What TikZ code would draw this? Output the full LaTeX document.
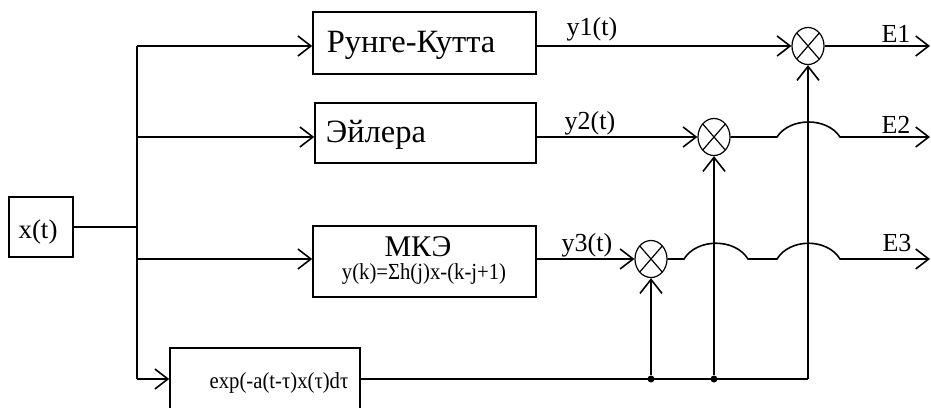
\documentclass[tikz,border=0pt]{standalone}
\usepackage{fontspec}
\setmainfont{Liberation Serif}
\usetikzlibrary{arrows.meta,shapes.geometric}
\begin{document}
\begin{tikzpicture}[x=1pt,y=-1pt,
  line width=1.6pt,
  conn/.style={-{Straight Barb[length=13pt,width=20pt]}},
  vconn/.style={-{Straight Barb[length=14pt,width=22pt]}},
  box/.style={draw, rectangle, inner sep=0pt},
  mult/.style={draw, ellipse, line width=1.2pt, minimum width=32pt, minimum height=37pt, inner sep=0pt,
    path picture={\draw[line width=1.2pt] (path picture bounding box.north west) -- (path picture bounding box.south east)
      (path picture bounding box.north east) -- (path picture bounding box.south west);}},
  dot/.style={circle, fill, inner sep=0pt, minimum size=7pt},
  big/.style={font=\fontsize{32.5}{32.5}\selectfont, inner sep=0pt},
  mid/.style={font=\fontsize{30}{30}\selectfont, inner sep=0pt},
  lbl/.style={font=\fontsize{26}{26}\selectfont, inner sep=0pt},
  small/.style={font=\fontsize{23}{23}\selectfont, inner sep=0pt}
]
\useasboundingbox (0,0) rectangle (931,407);
\clip (0,0) rectangle (931,407);

% input
\node[box, minimum width=64pt, minimum height=60pt] (xt) at (41,227) {};
\node[anchor=base, font=\fontsize{27}{27}\selectfont, inner sep=0pt] (xtt) at (38,238) {x(t)};
\coordinate (j0) at (137,227);
\coordinate (s1) at (137,46);
\coordinate (s2) at (137,137);
\coordinate (s3) at (137,259);
\coordinate (s4) at (137,379);

% blocks
\node[box, minimum width=223pt, minimum height=62pt] (rk) at (424.5,43) {};
\node[anchor=base west, big] (rkt) at (326,52) {Рунге-Кутта};
\node[box, minimum width=221pt, minimum height=60pt] (eu) at (425.5,133) {};
\node[anchor=base west, big] (eut) at (325,142) {Эйлера};
\node[box, minimum width=223pt, minimum height=71pt] (mk) at (424.5,261.5) {};
\node[anchor=base, mid] (mkt) at (418,256) {МКЭ};
\node[anchor=base, small] (mkf) at (424,279) {\scalebox{0.9}[1]{y(k)=Σh(j)x-(k-j+1)}};
\node[box, minimum width=190pt, minimum height=80pt] (ex) at (265,388) {};
\node[anchor=base, small] (ext) at (279,388) {\scalebox{0.9}[1]{exp(-a(t-τ)x(τ)dτ}};

% multipliers
\node[mult] (m1) at (808,46) {};
\node[mult] (m2) at (714,137) {};
\node[mult] (m3) at (651,259) {};
\node[dot] (d3) at (651,379) {};
\node[dot] (d2) at (714,379) {};
\coordinate (c1) at (808,379);
\coordinate (o1) at (930,46);
\coordinate (o2) at (930,137);
\coordinate (o3) at (930,259);

% connectors
\draw (xt.east) -- (j0);
\draw (s1) -- (s4);
\draw[conn] (s1) -- (s1 -| rk.west);
\draw[conn] (s2) -- (s2 -| eu.west);
\draw[conn] (s3) -- (s3 -| mk.west);
\draw[conn] (s4) -- (s4 -| ex.west);
\draw[conn] (rk.east |- m1) -- (m1.west);
\draw[conn] (eu.east |- m2) -- (m2.west);
\draw[conn] (mk.east |- m3) -- (m3.west);
\draw (ex.east |- c1) -- (c1);
\draw[vconn] (c1) -- (m1.south);
\draw[vconn] (d2) -- (m2.south);
\draw[vconn] (d3) -- (m3.south);
\draw[conn] (m1.east) -- (o1);
\draw[conn] (m2.east) -- (777,137) .. controls (790,117) and (827,117) .. (840,137) -- (o2);
\draw[conn] (m3.east) -- (684,259) .. controls (697,238) and (735,238) .. (748,259)
  -- (777,259) .. controls (790,238) and (827,238) .. (840,259) -- (o3);

% labels
\node[anchor=base, lbl] (ly1) at (592,35) {y1(t)};
\node[anchor=base, lbl] (ly2) at (590,129) {y2(t)};
\node[anchor=base, lbl] (ly3) at (587,251) {y3(t)};
\node[anchor=base, lbl] (le1) at (896,42) {E1};
\node[anchor=base, lbl] (le2) at (896,133) {E2};
\node[anchor=base, lbl] (le3) at (897,251) {E3};
\end{tikzpicture}
\end{document}
